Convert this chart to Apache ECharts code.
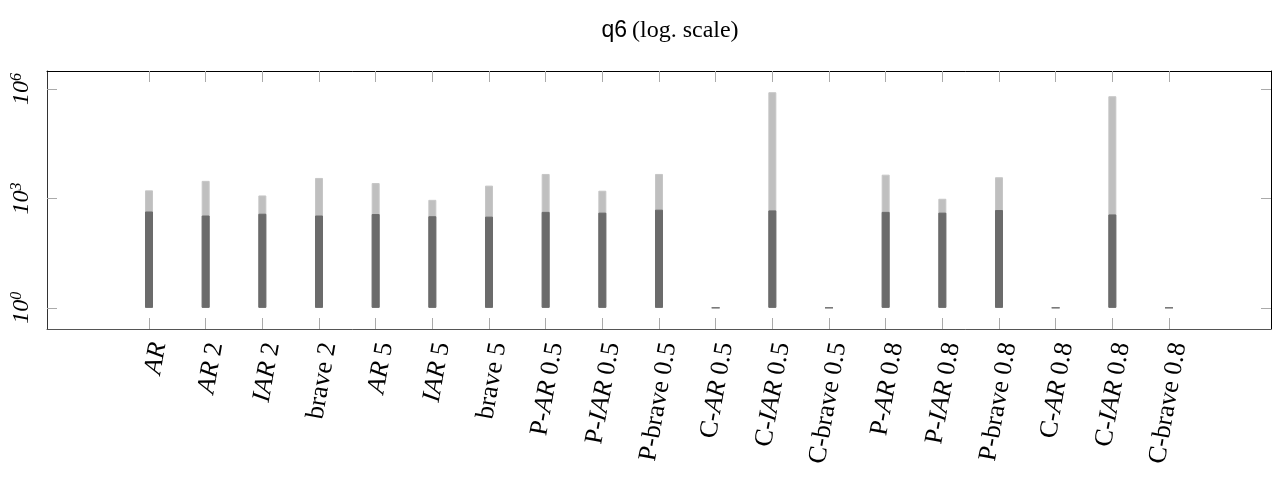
<!DOCTYPE html>
<html>
<head>
<meta charset="utf-8">
<script src="https://cdn.jsdelivr.net/npm/echarts@6/dist/echarts.min.js"></script>
<style>
  html, body { margin: 0; padding: 0; background: #fff; }
  #chart { width: 1283px; height: 487px; }
</style>
</head>
<body>
<div id="chart"></div>
<script>
// ---- data ----
const categories = ['AR', 'AR 2', 'IAR 2', 'brave 2', 'AR 5', 'IAR 5', 'brave 5',
  'P-AR 0.5', 'P-IAR 0.5', 'P-brave 0.5', 'C-AR 0.5', 'C-IAR 0.5', 'C-brave 0.5',
  'P-AR 0.8', 'P-IAR 0.8', 'P-brave 0.8', 'C-AR 0.8', 'C-IAR 0.8', 'C-brave 0.8'];
const darkValues = [437, 339, 380, 339, 372, 324, 316, 427, 407, 490, 1, 468, 1, 427, 407, 479, 1, 363, 1];
const lightValues = [1660, 3020, 1202, 3631, 2630, 912, 2239, 4677, 1622, 4677, null, 812830, null, 4467, 977, 3802, null, 630957, null];
const yTickValues = [1, 1000, 1000000];
const yTickLabels = ['{b|10}{s|0}', '{b|10}{s|3}', '{b|10}{s|6}'];

// ---- chart ----
const chart = echarts.init(document.getElementById('chart'), null, { renderer: 'canvas' });
const idx = categories.map((c, i) => i);
const serif = 'Liberation Serif';

function fmtCat(v) {
  const c = categories[Math.round(v)];
  if (c === undefined) return '';
  const m = c.match(/^([PC]-)?(AR|IAR|brave)( .*)?$/);
  let s = '';
  if (m[1]) s += '{r|' + m[1] + '}';
  s += (m[2] === 'brave') ? '{r|brave}' : '{i|' + m[2] + '}';
  if (m[3]) s += '{r|' + m[3] + '}';
  return s;
}

const xMin = -1.8, xMax = 19.8;
const yMin = 0.263, yMax = 3.1e6;
const tickColor = '#aaaaaa';

const option = {
  animation: false,
  backgroundColor: '#ffffff',
  title: {
    text: '{s|q6} {r|(log. scale)}',
    left: 665, top: 14, textAlign: 'center',
    textStyle: {
      fontWeight: 'normal',
      rich: {
        s: { fontFamily: 'Liberation Sans', fontSize: 23, fontWeight: 'normal', color: '#000' },
        r: { fontFamily: serif, fontSize: 24, fontWeight: 'normal', color: '#000' }
      }
    }
  },
  grid: { left: 47, right: 12, top: 71, bottom: 158, show: false },
  xAxis: [{
    type: 'value', position: 'bottom', min: xMin, max: xMax,
    splitLine: { show: false },
    axisLine: { show: true, onZero: false, lineStyle: { color: '#555', width: 1 } },
    axisTick: { show: true, inside: true, length: 11, customValues: idx, lineStyle: { color: tickColor } },
    axisLabel: {
      show: true, customValues: idx, rotate: 80, margin: 12,
      padding: [20, 0, 0, 0],
      formatter: fmtCat,
      rich: {
        r: { fontFamily: serif, fontSize: 26, fontStyle: 'normal', color: '#000' },
        i: { fontFamily: serif, fontSize: 26, fontStyle: 'italic', color: '#000' }
      }
    }
  }, {
    type: 'value', position: 'top', min: xMin, max: xMax,
    splitLine: { show: false },
    axisLine: { show: true, onZero: false, lineStyle: { color: '#000', width: 1 } },
    axisTick: { show: true, inside: true, length: 11, customValues: idx, lineStyle: { color: tickColor } },
    axisLabel: { show: false }
  }],
  yAxis: [{
    type: 'log', position: 'left', min: yMin, max: yMax,
    splitLine: { show: false },
    axisLine: { show: true, onZero: false, lineStyle: { color: '#333', width: 1 } },
    axisTick: { show: true, inside: true, length: 10, customValues: yTickValues, lineStyle: { color: tickColor } },
    axisLabel: {
      show: true, customValues: yTickValues, rotate: 90, margin: 12,
      formatter: function (v) {
        const k = yTickValues.findIndex(t => Math.abs(Math.log10(t) - Math.log10(v)) < 1e-6);
        return k >= 0 ? yTickLabels[k] : '';
      },
      rich: {
        b: { fontFamily: serif, fontSize: 24, fontStyle: 'italic', color: '#000' },
        s: { fontFamily: serif, fontSize: 16, fontStyle: 'italic', color: '#000', verticalAlign: 'top', padding: [0, 0, 10, 0] }
      }
    }
  }, {
    type: 'log', position: 'right', min: yMin, max: yMax,
    splitLine: { show: false },
    axisLine: { show: true, onZero: false, lineStyle: { color: '#000', width: 1 } },
    axisTick: { show: true, inside: true, length: 10, customValues: yTickValues, lineStyle: { color: tickColor } },
    axisLabel: { show: false }
  }],
  series: [{
    name: 'total', type: 'bar', xAxisIndex: 0, yAxisIndex: 0,
    data: lightValues.map((v, i) => [i, v]),
    barWidth: 8, barGap: '-100%',
    itemStyle: { color: '#bfbfbf', borderColor: '#c6c6c6', borderWidth: 1 }
  }, {
    name: 'part', type: 'bar', xAxisIndex: 0, yAxisIndex: 0,
    data: darkValues.map((v, i) => [i, v]),
    barWidth: 8, barGap: '-100%',
    itemStyle: { color: '#6b6b6b', borderColor: '#6b6b6b', borderWidth: 1 }
  }]
};
chart.setOption(option);
</script>
</body>
</html>
